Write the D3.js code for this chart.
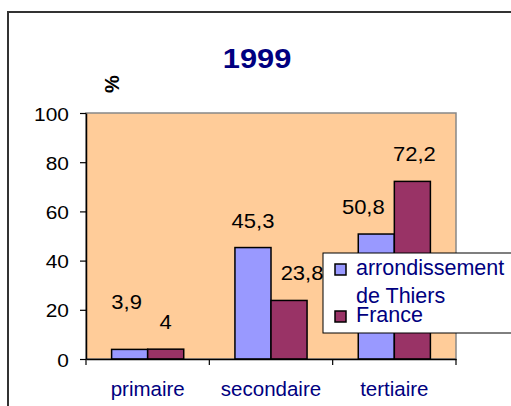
<!DOCTYPE html>
<html>
<head>
<meta charset="utf-8">
<script src="https://cdn.jsdelivr.net/npm/d3@7"></script>
<style>
  body { margin: 0; background: #fff; }
  text { font-family: Arial, "Liberation Sans", sans-serif; }
</style>
</head>
<body>
<svg width="511" height="406"></svg>
<script>
const categories = ['primaire', 'secondaire', 'tertiaire'];
const seriesNames = ['arrondissement de Thiers', 'France'];
const thiers = [3.9, 45.3, 50.8];
const france = [4, 23.8, 72.2];
const yTicks = [0, 20, 40, 60, 80, 100];
const title = '1999';
const yLabel = '%';

// manual label nudges (Excel labels that were dragged around)
const labelNudge = {
    thiers: [[-3, -20], [0, 0], [-13, 0]],
    france: [[0, 0], [13, 0], [2, 0]]
};

const svg = d3.select('svg');
const colors = ['#9999FF', '#993366'];
const navy = '#000080';
const plot = { left: 86, right: 456, top: 113, bottom: 359 };
const sx = 1.1; // text looks a bit stretched horizontally in the original

svg.append('rect').attr('width', 511).attr('height', 406).attr('fill', '#fff');

// outer chart frame (runs off the picture on right/bottom)
svg.append('rect')
    .attr('x', 8).attr('y', 12)
    .attr('width', 540).attr('height', 440)
    .attr('fill', 'none').attr('stroke', '#333').attr('stroke-width', 2);

const x = d3.scaleBand().domain(categories).range([plot.left, plot.right]);
const x1 = d3.scaleBand().domain(seriesNames).range([0, x.bandwidth()]).paddingInner(0).paddingOuter(0.71);
const y = d3.scaleLinear().domain([0, 100]).range([plot.bottom, plot.top]);

// plot area
svg.append('rect')
    .attr('x', plot.left).attr('y', plot.top)
    .attr('width', plot.right - plot.left).attr('height', plot.bottom - plot.top)
    .attr('fill', '#FFCC99').attr('stroke', '#888').attr('stroke-width', 1.5);

function stretchText(sel, px, py) {
    return sel.attr('transform', `translate(${px},${py}) scale(${sx},1)`);
}

// bars
const rows = categories.map((c, i) => ({ cat: c, values: [thiers[i], france[i]] }));
rows.forEach((row, i) => {
    row.values.forEach((v, j) => {
        const bx = x(row.cat) + x1(seriesNames[j]);
        svg.append('rect')
            .attr('x', bx).attr('y', y(v))
            .attr('width', x1.bandwidth()).attr('height', y(0) - y(v))
            .attr('fill', colors[j]).attr('stroke', '#000').attr('stroke-width', 1.5);

        const nudge = (j === 0 ? labelNudge.thiers : labelNudge.france)[i];
        svg.append('text')
            .call(stretchText, bx + x1.bandwidth() / 2 + nudge[0], y(v) - 20 + nudge[1])
            .attr('text-anchor', 'middle')
            .attr('font-size', '20px')
            .attr('fill', '#000')
            .text(String(v).replace('.', ','));
    });
});

// y axis
const yAxis = svg.append('g')
    .attr('transform', `translate(${plot.left},0)`)
    .call(d3.axisLeft(y).tickValues(yTicks).tickSize(6).tickPadding(0).tickSizeOuter(0));
yAxis.select('.domain').attr('stroke', '#000').attr('stroke-width', 1.5);
yAxis.selectAll('.tick line').attr('stroke', '#000').attr('stroke-width', 1.2);
yAxis.selectAll('.tick text')
    .attr('x', null).attr('dy', null)
    .attr('font-size', '19px').attr('fill', '#000')
    .attr('font-family', 'Arial, "Liberation Sans", sans-serif')
    .attr('transform', `translate(-17,7) scale(${sx},1)`);

// x axis
const xAxis = svg.append('g')
    .attr('transform', `translate(0,${plot.bottom})`)
    .call(d3.axisBottom(x).tickSize(0).tickSizeOuter(0).tickPadding(0));
xAxis.select('.domain').attr('stroke', '#000').attr('stroke-width', 1.5);
xAxis.selectAll('.tick text')
    .attr('dy', null).attr('y', 37)
    .attr('font-size', '20.5px').attr('fill', navy)
    .attr('font-family', 'Arial, "Liberation Sans", sans-serif');
// category separators
const seps = categories.map(c => x(c)).concat([x(categories[categories.length - 1]) + x.bandwidth()]);
xAxis.selectAll('line.sep').data(seps).enter().append('line')
    .attr('class', 'sep')
    .attr('x1', d => d).attr('x2', d => d)
    .attr('y1', 0).attr('y2', 6)
    .attr('stroke', '#000').attr('stroke-width', 1.2);

// title
svg.append('text')
    .call(stretchText, 257, 68)
    .attr('text-anchor', 'middle')
    .attr('font-size', '28px').attr('font-weight', 'bold')
    .attr('fill', navy)
    .text(title);

// y label
svg.append('text')
    .attr('transform', 'translate(119,84) rotate(-90)')
    .attr('text-anchor', 'middle')
    .attr('font-size', '20px').attr('font-weight', 'bold')
    .attr('fill', '#000')
    .text(yLabel);

// legend
const legend = svg.append('g').attr('transform', 'translate(323,253)');
legend.append('rect')
    .attr('width', 220).attr('height', 80)
    .attr('fill', '#fff').attr('stroke', '#000').attr('stroke-width', 1);
const legendItems = [
    { lines: ['arrondissement', 'de Thiers'], color: colors[0], y: 22 },
    { lines: ['France'], color: colors[1], y: 69 }
];
legendItems.forEach(item => {
    legend.append('rect')
        .attr('x', 12).attr('y', item.y - 11)
        .attr('width', 11).attr('height', 11)
        .attr('fill', item.color).attr('stroke', '#000').attr('stroke-width', 1.5);
    item.lines.forEach((ln, k) => {
        legend.append('text')
            .attr('x', 33).attr('y', item.y + k * 28)
            .attr('font-size', '21.5px').attr('fill', navy)
            .text(ln);
    });
});
</script>
</body>
</html>
